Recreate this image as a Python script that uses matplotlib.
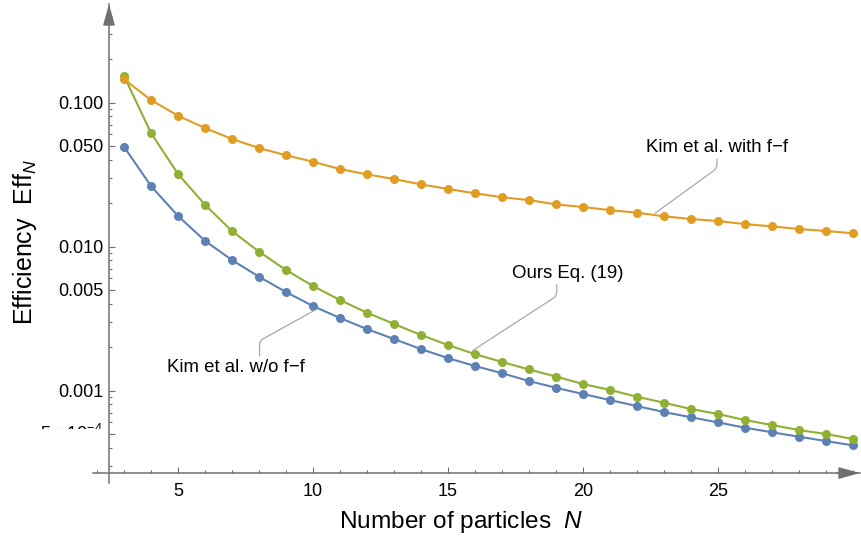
import numpy as np
import matplotlib
matplotlib.use("Agg")
import matplotlib.pyplot as plt
from matplotlib.ticker import FixedLocator, NullFormatter
from matplotlib.transforms import Bbox, TransformedBbox, blended_transform_factory

plt.rcParams.update({
    "font.family": ["Liberation Sans", "DejaVu Sans"],
    "mathtext.fontset": "custom",
    "mathtext.rm": "Liberation Sans",
    "mathtext.it": "Liberation Sans:italic",
    "mathtext.bf": "Liberation Sans:bold",
})

# Number of particles
N = np.arange(3, 31)

# Kim et al. with f-f (orange)
eff_kim_ff = [0.145, 0.104, 0.081, 0.0665, 0.0558, 0.0483, 0.0430, 0.0388,
              0.0345, 0.0317, 0.0294, 0.0270, 0.0251, 0.0234, 0.0220, 0.0210,
              0.0196, 0.0188, 0.0179, 0.01717, 0.01621, 0.01553, 0.01503,
              0.01432, 0.01380, 0.01323, 0.01282, 0.01236]

# Ours Eq. (19) (green)
eff_ours = [0.153, 0.0614, 0.0319, 0.0195, 0.0128, 0.00921, 0.00687, 0.00532,
            0.00425, 0.00347, 0.00290, 0.00243, 0.00207, 0.00179, 0.00158,
            0.00140, 0.00125, 0.00111, 0.00101, 0.000906, 0.000823, 0.000744,
            0.000687, 0.000624, 0.000576, 0.000532, 0.000499, 0.000461]

# Kim et al. w/o f-f (blue)
eff_kim_noff = [0.0493, 0.0263, 0.0163, 0.01096, 0.00805, 0.00617, 0.00483,
                0.00386, 0.00319, 0.00267, 0.00228, 0.00194, 0.00168, 0.00148,
                0.00132, 0.001164, 0.001045, 0.000946, 0.000859, 0.000780,
                0.000709, 0.000652, 0.000601, 0.000552, 0.000513, 0.000478,
                0.000446, 0.000416]

C_BLUE = "#5E81B5"
C_ORANGE = "#E19C24"
C_GREEN = "#8FB032"
C_AXIS = "#707070"
C_LEADER = "#A8A8A8"

W, H = 862, 540
fig = plt.figure(figsize=(W / 100, H / 100), dpi=100)
ax = fig.add_axes([93 / W, 57 / H, (860 - 93) / W, (536 - 57) / H])
ax.set_yscale("log")
ax.set_xlim(1.852, 30.26)
ax.set_ylim(10 ** -3.642, 10 ** -0.316)

x_cross = 2.444
y_cross = 10 ** -3.573

for y, c in [(eff_kim_noff, C_BLUE), (eff_ours, C_GREEN), (eff_kim_ff, C_ORANGE)]:
    ax.plot(N, y, color=c, lw=1.5, marker="o", ms=6.5, mec="none", zorder=3)

# Mathematica-like axes crossing at a point
for s in ["top", "right"]:
    ax.spines[s].set_visible(False)
ax.spines["left"].set_position(("data", x_cross))
ax.spines["bottom"].set_position(("data", y_cross))
for s in ["left", "bottom"]:
    ax.spines[s].set_color(C_AXIS)
    ax.spines[s].set_linewidth(1.1)

# arrowheads
arr = dict(arrowstyle="-|>,head_length=0.65,head_width=0.18", color=C_AXIS,
           lw=1.1, shrinkA=0, shrinkB=0, mutation_scale=20)
ax.annotate("", xy=(x_cross, 1.0), xycoords=("data", "axes fraction"),
            xytext=(x_cross, 0.96), textcoords=("data", "axes fraction"), arrowprops=arr)
ax.annotate("", xy=(1.0, y_cross), xycoords=("axes fraction", "data"),
            xytext=(0.97, y_cross), textcoords=("axes fraction", "data"), arrowprops=arr)

# ticks
xmaj = [5, 10, 15, 20, 25]
ax.xaxis.set_major_locator(FixedLocator(xmaj))
ax.xaxis.set_minor_locator(FixedLocator([n for n in range(2, 31) if n not in xmaj]))
ax.set_xticklabels([str(v) for v in xmaj])

ymaj = [5e-4, 1e-3, 5e-3, 1e-2, 5e-2, 1e-1]
ylab = ["", "0.001", "0.005", "0.010", "0.050", "0.100"]
ymin = [m * 10.0 ** e for e in (-4, -3, -2, -1) for m in range(2, 10)]
ymin = [v for v in ymin if not any(abs(v - t) / t < 1e-6 for t in ymaj)]
ax.yaxis.set_major_locator(FixedLocator(ymaj))
ax.yaxis.set_minor_locator(FixedLocator(ymin))
ax.set_yticklabels(ylab)
ax.yaxis.set_minor_formatter(NullFormatter())

ax.tick_params(which="both", direction="in", color=C_AXIS, width=0.8,
               labelsize=13, labelcolor="black")
ax.tick_params(which="major", length=4.5)
ax.tick_params(which="minor", length=2.5)
ax.tick_params(axis="x", pad=7)
ax.tick_params(axis="y", pad=4)

# clipped 5x10^-4 label, as in the original
tr = blended_transform_factory(ax.transData, ax.transData)
t = ax.text(x_cross - 0.22, 5e-4, r"$5\times10^{-4}$", ha="right", va="center",
            fontsize=13, transform=tr, clip_on=True)
t.set_clip_box(TransformedBbox(Bbox([[0, 111 / H], [1, 1]]), fig.transFigure))

# callouts
def callout(text, xs, ys, n_at, off, relpos, angA, angB):
    logy = np.interp(n_at, N, np.log10(ys))
    ax.annotate(text, xy=(n_at, 10 ** logy), xytext=off, textcoords="offset pixels",
                ha="center", va="center", fontsize=13.4,
                arrowprops=dict(arrowstyle="-", color=C_LEADER, lw=0.9,
                                shrinkA=0, shrinkB=2, relpos=relpos,
                                connectionstyle=f"angle,angleA={angA},angleB={angB},rad=4"))

callout("Kim et al. with f\u2212f", N, eff_kim_ff, 22.59, (64, 67), (0.5, 0.0), 90, 36)
callout("Ours Eq. (19)", N, eff_ours, 15.81, (98, 79), (0.4, 0.0), 90, 33)
callout("Kim et al. w/o f\u2212f", N, eff_kim_noff, 10.19, (-82, -59), (0.67, 1.0), 90, 29)

fig.text(461 / W, 1 - 522 / H, r"Number of particles  $N$", ha="center", va="center", fontsize=17.6)
fig.text(25 / W, 1 - 242 / H, r"Efficiency  Eff$_N$", ha="center", va="center",
         rotation=90, fontsize=18)

fig.savefig("out.png", dpi=100)
